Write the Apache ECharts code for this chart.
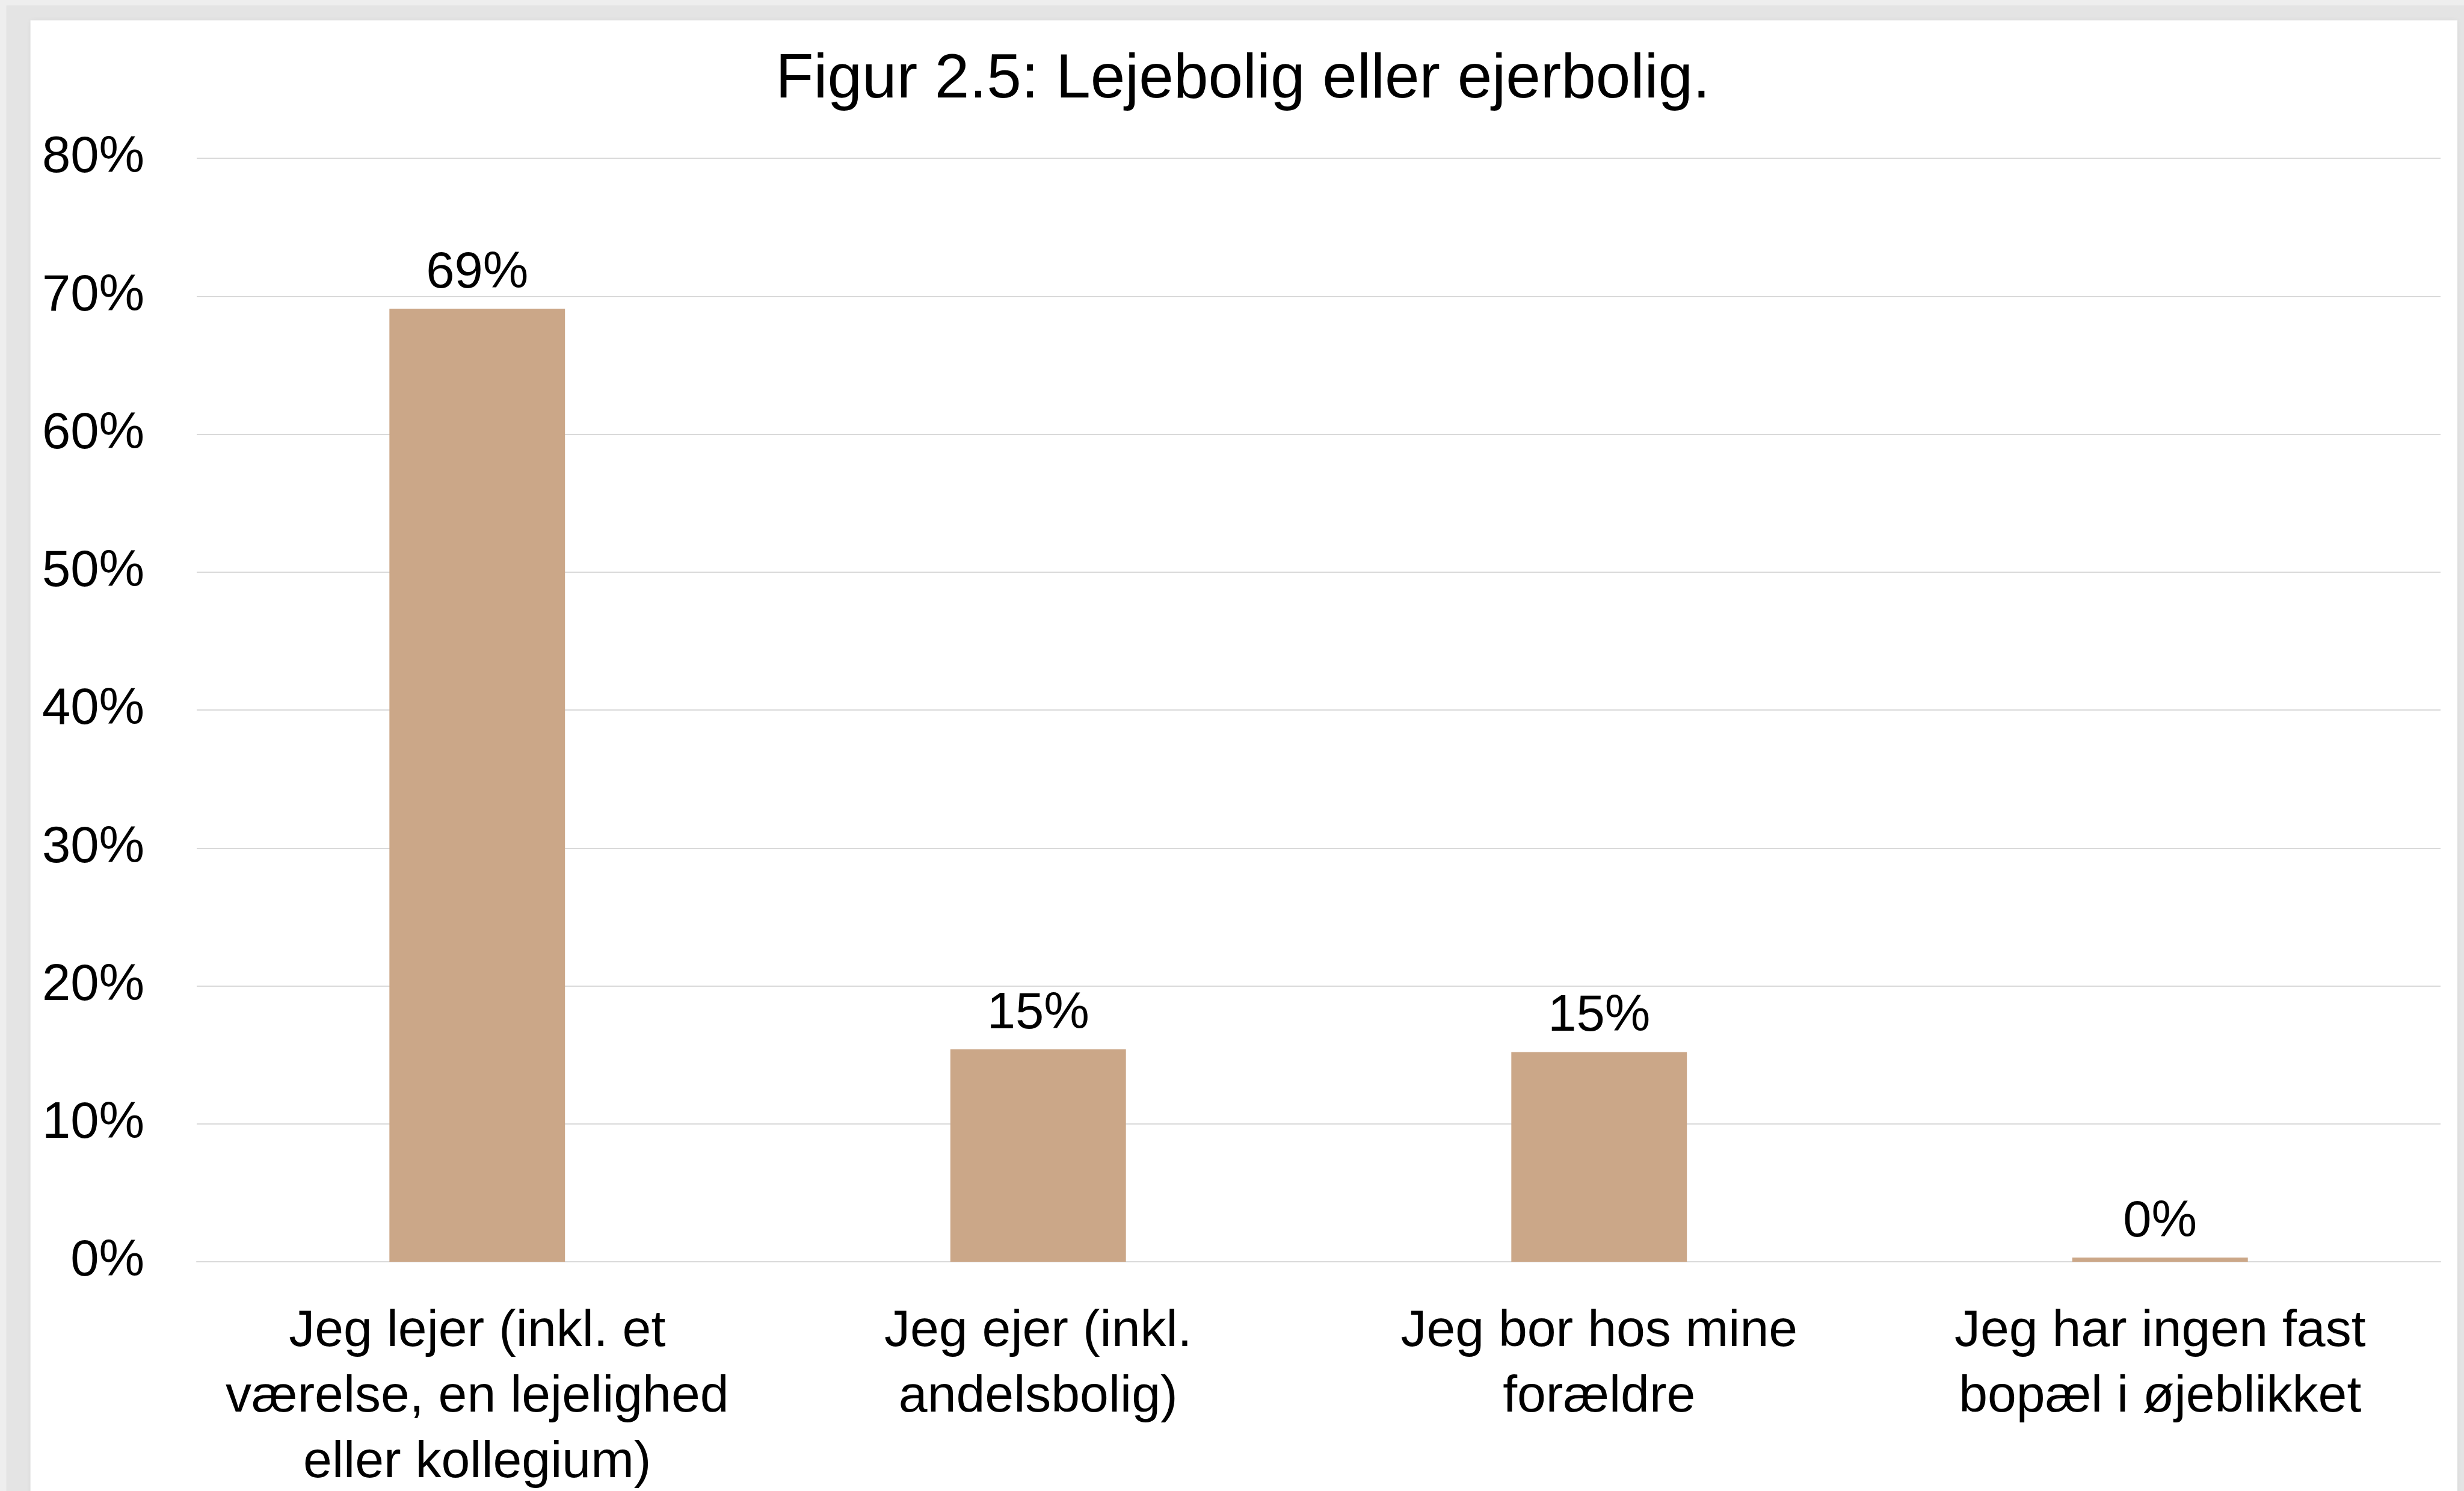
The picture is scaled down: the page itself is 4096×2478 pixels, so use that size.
<!DOCTYPE html>
<html>
<head>
<meta charset="utf-8">
<script src="https://cdn.jsdelivr.net/npm/echarts@6/dist/echarts.min.js"></script>
<style>
  html, body { margin: 0; padding: 0; background: #e4e4e4; }
  #chart { width: 4096px; height: 2478px; }
</style>
</head>
<body>
<div id="chart"></div>
<script>
const titleText = 'Figur 2.5: Lejebolig eller ejerbolig.';
const categories = [
  'Jeg lejer (inkl. et\nværelse, en lejelighed\neller kollegium)',
  'Jeg ejer (inkl.\nandelsbolig)',
  'Jeg bor hos mine\nforældre',
  'Jeg har ingen fast\nbopæl i øjeblikket'
];
const shares = [69.1, 15.4, 15.2, 0.3];
const yTicks = { min: 0, max: 80, interval: 10 };

const FONT = '"Liberation Sans", Arial, sans-serif';
const chart = echarts.init(document.getElementById('chart'));
chart.setOption({
  backgroundColor: '#e4e4e4',
  animation: false,
  graphic: [
    { type: 'rect', z: -10, silent: true, shape: { x: 0, y: 0, width: 4096, height: 9 }, style: { fill: '#eeeeee' } },
    { type: 'rect', z: -10, silent: true, shape: { x: 0, y: 0, width: 10.5, height: 2478 }, style: { fill: '#eeeeee' } },
    { type: 'rect', z: -9, silent: true, shape: { x: 50.6, y: 33.7, width: 4034.4, height: 2460 },
      style: { fill: '#ffffff', shadowBlur: 8, shadowColor: 'rgba(0,0,0,0.06)' } }
  ],
  title: {
    text: titleText,
    left: 2066,
    textAlign: 'center',
    top: 81,
    padding: 0,
    textStyle: { fontFamily: FONT, fontSize: 103.5, lineHeight: 104, fontWeight: 'normal', color: '#000000' }
  },
  grid: { left: 327, right: 39, top: 263, bottom: 381, containLabel: false, outerBoundsMode: 'none' },
  xAxis: {
    type: 'category',
    data: categories,
    axisTick: { show: false },
    axisLine: { lineStyle: { color: '#d9d9d9', width: 2 } },
    axisLabel: {
      interval: 0,
      margin: 62,
      fontFamily: FONT,
      fontSize: 86,
      lineHeight: 109,
      color: '#000000',
      align: 'center'
    }
  },
  yAxis: {
    type: 'value',
    min: yTicks.min,
    max: yTicks.max,
    interval: yTicks.interval,
    axisLine: { show: false },
    axisTick: { show: false },
    splitLine: { lineStyle: { color: '#d9d9d9', width: 2 } },
    axisLabel: {
      formatter: '{value}%',
      margin: 87,
      fontFamily: FONT,
      fontSize: 85,
      lineHeight: 85,
      padding: [0, 0, 6, 0],
      color: '#000000'
    }
  },
  series: [{
    type: 'bar',
    data: shares,
    barWidth: '31.3%',
    itemStyle: { color: '#cba788' },
    label: {
      show: true,
      position: 'top',
      distance: 16,
      formatter: p => Math.round(p.value) + '%',
      fontFamily: FONT,
      fontSize: 85,
      lineHeight: 85,
      color: '#000000'
    }
  }]
});
</script>
</body>
</html>
